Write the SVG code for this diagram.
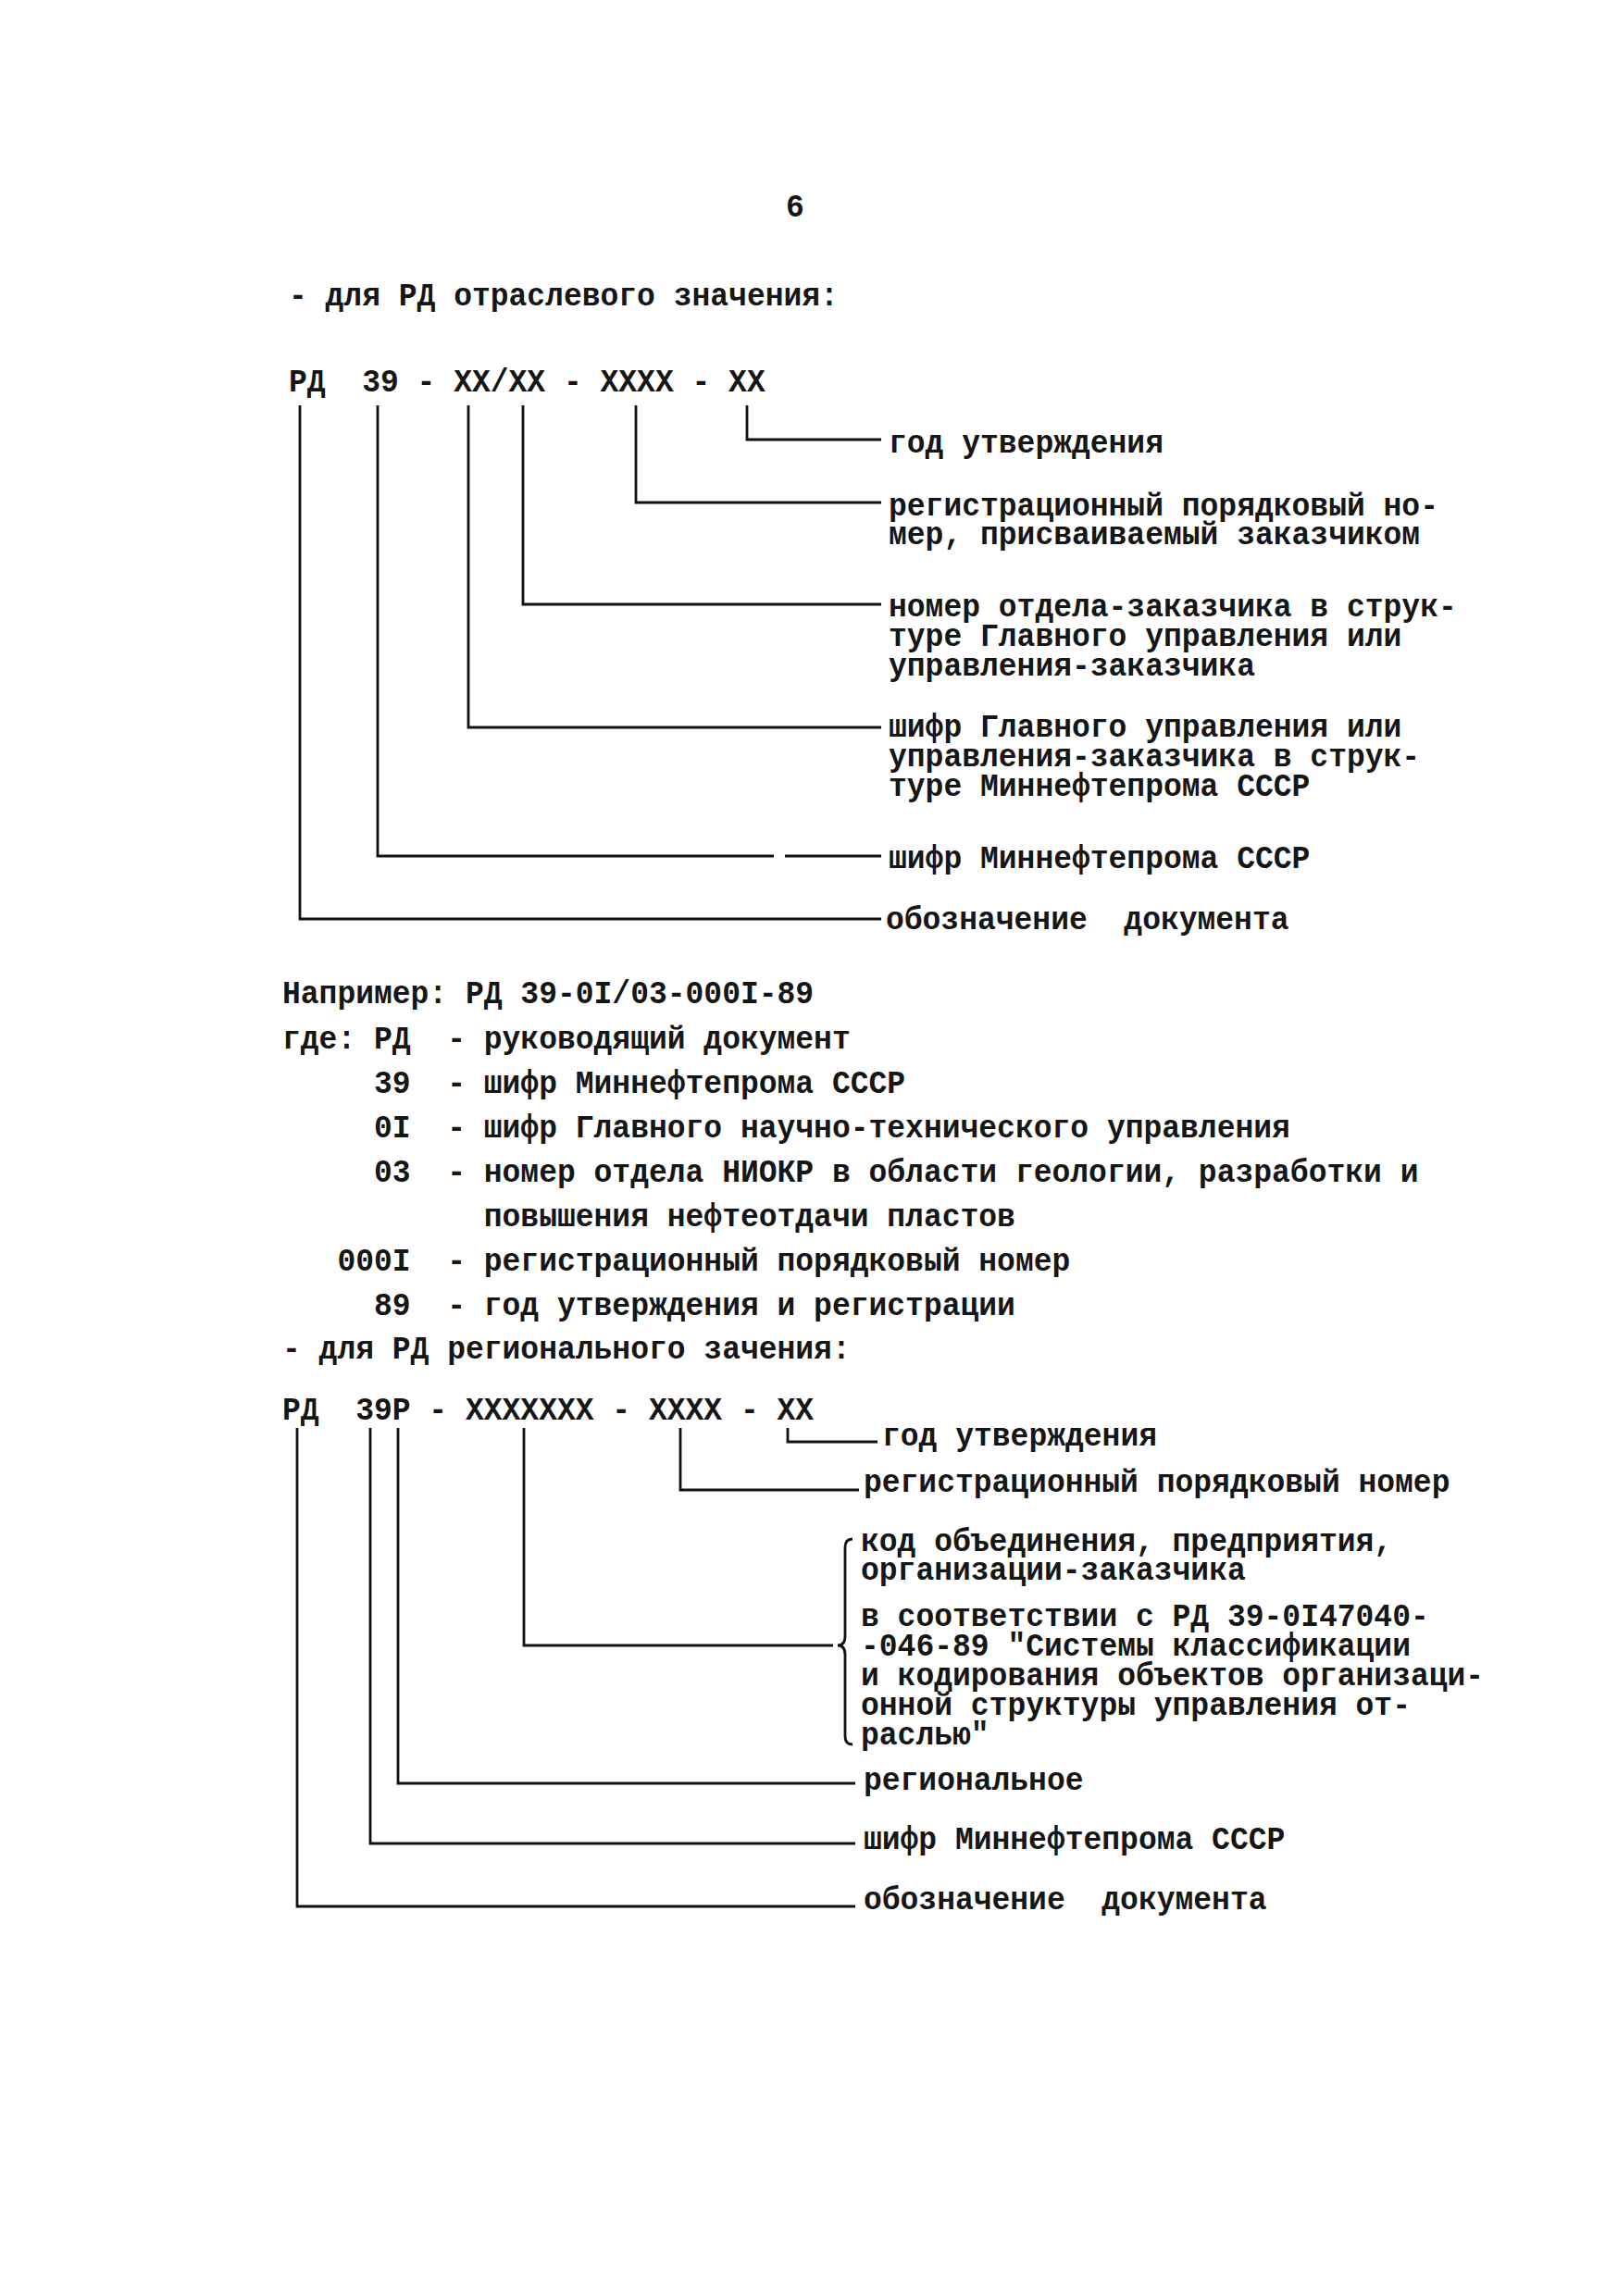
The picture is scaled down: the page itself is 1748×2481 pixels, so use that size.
<svg xmlns="http://www.w3.org/2000/svg" width="1748" height="2481" viewBox="0 0 1748 2481">
<style>
.t{font-family:"Liberation Mono","DejaVu Sans Mono",monospace;font-size:36px;font-weight:bold;fill:#161616}
.c{fill:none;stroke:#111;stroke-width:2.8;stroke-linejoin:miter}
</style>
<rect width="1748" height="2481" fill="#fff"/>
<g id="connectors">
<path class="c" d="M807 438V475H952"/>
<path class="c" d="M687 438V543H952"/>
<path class="c" d="M565 438V653H952"/>
<path class="c" d="M506 438V786H952"/>
<path class="c" d="M408 438V925H836M848 925H952"/>
<path class="c" d="M324 438V993H952"/>
<path class="c" d="M851 1543V1558H948"/>
<path class="c" d="M735 1543V1610H928"/>
<path class="c" d="M566 1543V1778H900"/>
<path class="c" d="M430 1543V1927H924"/>
<path class="c" d="M400 1543V1992H924"/>
<path class="c" d="M321 1543V2060H924"/>
<path class="c" d="M921 1663Q913 1663 913 1672V1768Q913 1778 905 1778Q913 1778 913 1788V1876Q913 1885 921 1885" stroke-width="2.4"/>
</g>
<g class="t" transform="scale(0.917 1)">
<g id="page-number"><text x="936.7" y="234" text-anchor="middle">6</text></g>
<g id="section1">
<text x="340.2" y="330">- для РД отраслевого значения:</text>
<text x="340.2" y="423" xml:space="preserve">РД  39 - ХХ/ХХ - ХХХХ - ХХ</text>
</g>
<g id="n-year1"><text x="1046.9" y="489">год утверждения</text></g>
<g id="n-reg1"><text x="1046.9" y="557">регистрационный порядковый но-</text><text x="1046.9" y="588">мер, присваиваемый заказчиком</text></g>
<g id="n-dept1"><text x="1046.9" y="666">номер отдела-заказчика в струк-</text><text x="1046.9" y="698">туре Главного управления или</text><text x="1046.9" y="730">управления-заказчика</text></g>
<g id="n-gu1"><text x="1046.9" y="796">шифр Главного управления или</text><text x="1046.9" y="828">управления-заказчика в струк-</text><text x="1046.9" y="860">туре Миннефтепрома СССР</text></g>
<g id="n-min1"><text x="1046.9" y="938">шифр Миннефтепрома СССР</text></g>
<g id="n-doc1"><text x="1043.6" y="1004" xml:space="preserve">обозначение  документа</text></g>
<g id="example">
<text x="332.6" y="1084">Например: РД 39-0I/03-000I-89</text>
<text x="332.6" y="1133" xml:space="preserve">где: РД  - руководящий документ</text>
<text x="332.6" y="1181" xml:space="preserve">     39  - шифр Миннефтепрома СССР</text>
<text x="332.6" y="1229" xml:space="preserve">     0I  - шифр Главного научно-технического управления</text>
<text x="332.6" y="1277" xml:space="preserve">     03  - номер отдела НИОКР в области геологии, разработки и</text>
<text x="332.6" y="1325" xml:space="preserve">           повышения нефтеотдачи пластов</text>
<text x="332.6" y="1373" xml:space="preserve">   000I  - регистрационный порядковый номер</text>
<text x="332.6" y="1421" xml:space="preserve">     89  - год утверждения и регистрации</text>
</g>
<g id="section2">
<text x="332.6" y="1468">- для РД регионального зачения:</text>
<text x="332.6" y="1534" xml:space="preserve">РД  39Р - ХХХХХХХ - ХХХХ - ХХ</text>
</g>
<g id="n-year2"><text x="1039.3" y="1562">год утверждения</text></g>
<g id="n-reg2"><text x="1017.4" y="1612">регистрационный порядковый номер</text></g>
<g id="n-org2">
<text x="1014.2" y="1676">код объединения, предприятия,</text>
<text x="1014.2" y="1707">организации-заказчика</text>
<text x="1014.2" y="1757">в соответствии с РД 39-0I47040-</text>
<text x="1014.2" y="1789">-046-89 "Системы классификации</text>
<text x="1014.2" y="1821">и кодирования объектов организаци-</text>
<text x="1014.2" y="1853">онной структуры управления от-</text>
<text x="1014.2" y="1885">раслью"</text>
</g>
<g id="n-reg-p2"><text x="1017.4" y="1934">региональное</text></g>
<g id="n-min2"><text x="1017.4" y="1998">шифр Миннефтепрома СССР</text></g>
<g id="n-doc2"><text x="1017.4" y="2063" xml:space="preserve">обозначение  документа</text></g>
</g>
</svg>
